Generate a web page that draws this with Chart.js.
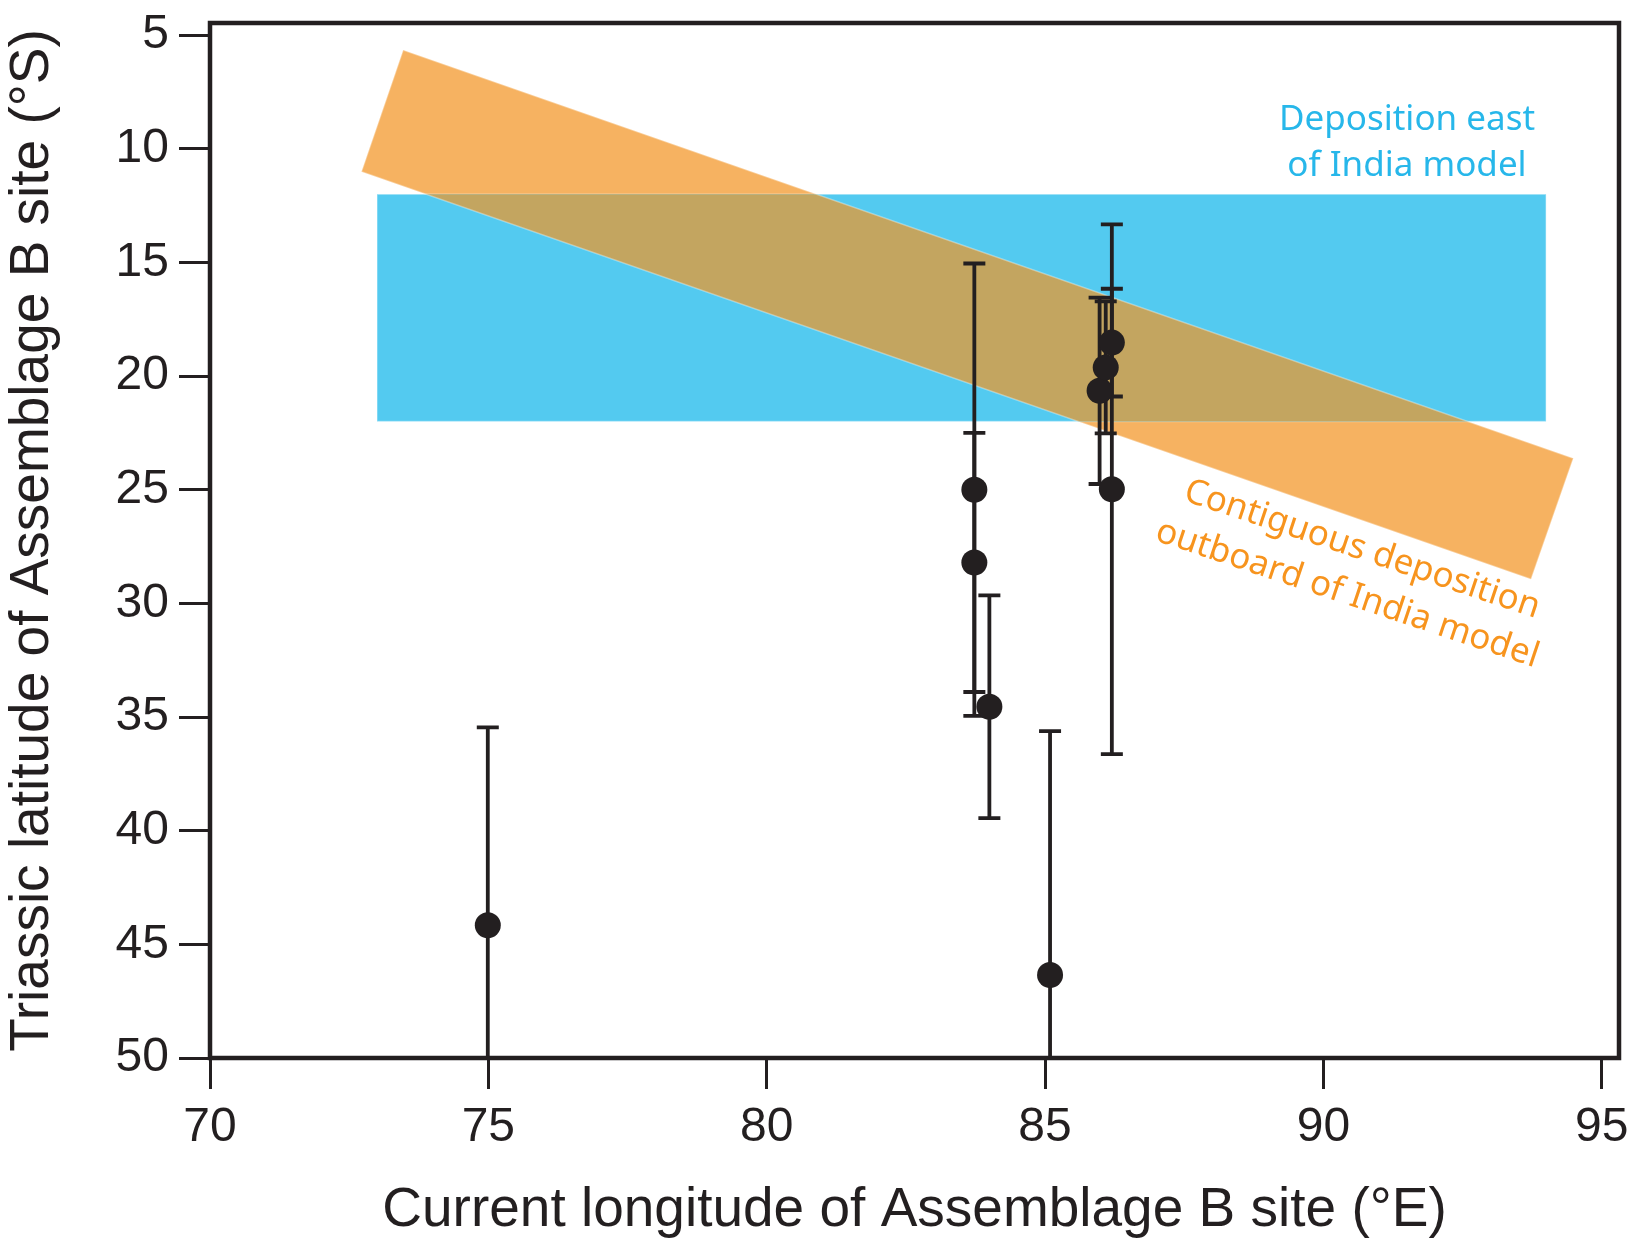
<!DOCTYPE html>
<html>
<head>
<meta charset="utf-8">
<script src="https://cdn.jsdelivr.net/npm/chart.js@4.4.1/dist/chart.umd.min.js"></script>
<style>
  html, body { margin: 0; padding: 0; background: #fff; }
  #wrap { width: 1632px; height: 1248px; }
</style>
</head>
<body>
<div id="wrap"><canvas id="chart"></canvas></div>
<script>
// site longitude (°E), Triassic latitude (°S), and half-width of its error bar
const longitudes = [74.99, 83.73, 83.73, 84.0, 85.09, 85.98, 86.09, 86.2, 86.2]
const latitudes = [44.16, 25.0, 28.2, 34.55, 46.35, 20.65, 19.62, 18.53, 24.98]
const latErrors = [8.7, 9.95, 5.7, 4.9, 10.73, 4.1, 2.9, 2.37, 11.65]

const xTicks = [70, 75, 80, 85, 90, 95]
const yTicks = [5, 10, 15, 20, 25, 30, 35, 40, 45, 50]

// "Deposition east of India" model box
const eastBoxLon = [73, 94]
const eastBoxLat = [12, 22]

// "Contiguous deposition outboard of India" model band (corners)
const bandLon = [73.47, 94.49, 93.73, 72.72]
const bandLat = [5.66, 23.62, 28.94, 11.01]

const ink = "#231f20"
const blue = "#53caf0"
const orange = "#f6b261"
const overlap = "#c3a560"

const modelShapes = {
  id: "modelShapes",
  beforeDatasetsDraw(chart) {
    const { ctx, chartArea: a, scales: { x, y } } = chart
    ctx.save()
    ctx.beginPath()
    ctx.rect(a.left, a.top, a.width, a.height)
    ctx.clip()

    const bandPath = () => {
      ctx.beginPath()
      bandLon.forEach((lon, i) => {
        const px = x.getPixelForValue(lon)
        const py = y.getPixelForValue(bandLat[i])
        if (i) ctx.lineTo(px, py); else ctx.moveTo(px, py)
      })
      ctx.closePath()
    }
    const bx = x.getPixelForValue(eastBoxLon[0])
    const bw = x.getPixelForValue(eastBoxLon[1]) - bx
    const by = y.getPixelForValue(eastBoxLat[0])
    const bh = y.getPixelForValue(eastBoxLat[1]) - by

    ctx.fillStyle = orange
    bandPath()
    ctx.fill()
    ctx.strokeStyle = "rgba(255,255,255,0.35)"
    ctx.lineWidth = 1.5
    ctx.stroke()

    ctx.fillStyle = blue
    ctx.fillRect(bx, by, bw, bh)
    ctx.strokeRect(bx, by, bw, bh)

    ctx.save()
    ctx.beginPath()
    ctx.rect(bx, by, bw, bh)
    ctx.clip()
    ctx.fillStyle = overlap
    bandPath()
    ctx.fill()
    ctx.stroke()
    ctx.restore()

    // error bars
    ctx.strokeStyle = ink
    ctx.lineWidth = 3.8
    longitudes.forEach((lon, i) => {
      const px = x.getPixelForValue(lon)
      const top = y.getPixelForValue(latitudes[i] - latErrors[i])
      const bot = y.getPixelForValue(latitudes[i] + latErrors[i])
      ctx.beginPath()
      ctx.moveTo(px, top)
      ctx.lineTo(px, bot)
      ctx.moveTo(px - 11, top)
      ctx.lineTo(px + 11, top)
      ctx.moveTo(px - 11, bot)
      ctx.lineTo(px + 11, bot)
      ctx.stroke()
    })
    ctx.restore()
  },
  afterDraw(chart) {
    const { ctx, chartArea: a } = chart
    ctx.save()
    ctx.strokeStyle = ink
    ctx.lineWidth = 4.5
    ctx.strokeRect(a.left, a.top, a.width, a.height)

    ctx.font = "35px 'Noto Sans'"
    ctx.textAlign = "center"
    ctx.textBaseline = "alphabetic"
    ctx.fillStyle = "#27b7ea"
    ctx.fillText("Deposition east", 1407, 130)
    ctx.fillText("of India model", 1407, 176)

    ctx.fillStyle = "#f7941e"
    ctx.translate(1359, 559)
    ctx.rotate(18.5 * Math.PI / 180)
    ctx.fillText("Contiguous deposition", 0, 0)
    ctx.fillText("outboard of India model", 0, 47)
    ctx.restore()
  }
}

const noPad = s => { s.paddingLeft = 0; s.paddingRight = 0; s.paddingTop = 0; s.paddingBottom = 0 }

new Chart(document.getElementById("chart"), {
  type: "scatter",
  data: {
    datasets: [{
      data: longitudes.map((lon, i) => ({ x: lon, y: latitudes[i] })),
      backgroundColor: ink,
      borderWidth: 0,
      pointRadius: 13
    }]
  },
  options: {
    responsive: true,
    maintainAspectRatio: false,
    animation: false,
    layout: { padding: { top: 23, right: 10, left: 0, bottom: 0 } },
    plugins: { legend: { display: false }, tooltip: { enabled: false } },
    scales: {
      x: {
        min: 70,
        max: 95.31,
        afterBuildTicks: s => { s.ticks = xTicks.map(v => ({ value: v })) },
        afterFit: s => { s.height = 190; noPad(s) },
        grid: { drawOnChartArea: false, tickLength: 31, tickWidth: 3, tickColor: ink },
        border: { display: false },
        ticks: { color: ink, padding: 10, font: { family: "'Liberation Sans'", size: 48 } },
        title: {
          display: true,
          text: "Current longitude of Assemblage B site (°E)",
          color: ink,
          padding: { top: 0, bottom: 4 },
          font: { family: "'Liberation Sans'", size: 55 }
        }
      },
      y: {
        reverse: true,
        min: 4.47,
        max: 50,
        afterBuildTicks: s => { s.ticks = yTicks.map(v => ({ value: v })) },
        afterFit: s => { s.width = 210; noPad(s) },
        grid: { drawOnChartArea: false, tickLength: 31, tickWidth: 3, tickColor: ink },
        border: { display: false },
        ticks: { color: ink, padding: 10, font: { family: "'Liberation Sans'", size: 48 } },
        title: {
          display: true,
          text: "Triassic latitude of Assemblage B site (°S)",
          color: ink,
          padding: { top: 0, bottom: 0 },
          font: { family: "'Liberation Sans'", size: 55 }
        }
      }
    }
  },
  plugins: [modelShapes]
})
</script>
</body>
</html>
